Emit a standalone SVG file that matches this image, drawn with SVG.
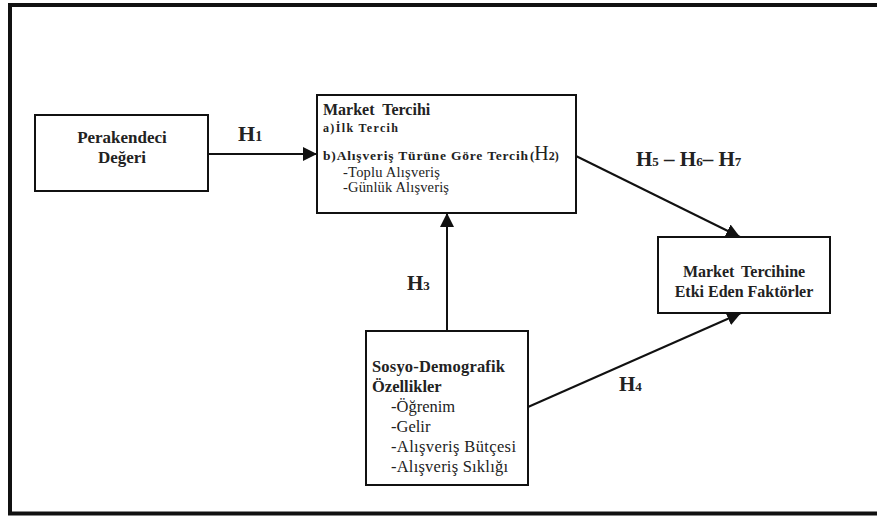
<svg xmlns="http://www.w3.org/2000/svg" width="877" height="516" viewBox="0 0 877 516">
  <style>
    .box { fill: #ffffff; stroke: #111111; stroke-width: 2; }
    .conn { stroke: #111111; stroke-width: 2; fill: none; marker-end: url(#tri); }
    text { font-family: "Liberation Serif", "DejaVu Serif", "Times New Roman", serif; fill: #222222; }
    .b { font-weight: bold; }
  </style>
  <defs>
    <marker id="tri" viewBox="0 0 14 14" refX="14" refY="7" markerWidth="14" markerHeight="14" markerUnits="userSpaceOnUse" orient="auto">
      <path d="M0,0 L14,7 L0,14 Z" fill="#111111"/>
    </marker>
  </defs>

  <rect width="877" height="516" fill="#ffffff"/>

  <!-- outer frame (open to the right) -->
  <path d="M880,5 L10,5 L10,513.5 L880,513.5" fill="none" stroke="#111111" stroke-width="4"/>

  <g id="connectors">
    <line class="conn" x1="208" y1="154" x2="317" y2="154"/>
    <line class="conn" x1="576" y1="156" x2="740" y2="237"/>
    <line class="conn" x1="447" y1="331" x2="447" y2="213"/>
    <line class="conn" x1="528" y1="407" x2="741" y2="313"/>
    <g id="labels">
      <text class="b" x="238" y="141" font-size="22">H<tspan font-size="14">1</tspan></text>
      <text class="b" x="636" y="166" font-size="21">H<tspan font-size="13">5</tspan> – H<tspan font-size="13">6</tspan>– H<tspan font-size="13">7</tspan></text>
      <text class="b" x="407" y="290" font-size="21">H<tspan font-size="13">3</tspan></text>
      <text class="b" x="619" y="391" font-size="21">H<tspan font-size="13">4</tspan></text>
    </g>
  </g>

  <g id="perakendeci">
    <rect class="box" x="35" y="115" width="173" height="76"/>
    <text class="b" x="122" y="143" font-size="17" text-anchor="middle">Perakendeci</text>
    <text class="b" x="122" y="163" font-size="17" text-anchor="middle">Değeri</text>
  </g>

  <g id="market-tercihi">
    <rect class="box" x="317" y="95" width="259" height="118"/>
    <text class="b" x="323" y="115" font-size="16" word-spacing="4">Market Tercihi</text>
    <text class="b" x="323" y="132" font-size="12" textLength="75" lengthAdjust="spacing">a)İlk Tercih</text>
    <text class="b" x="323" y="160" font-size="13.5" textLength="205" lengthAdjust="spacing">b)Alışveriş Türüne Göre Tercih</text>
    <text x="530" y="160"><tspan class="b" font-size="13">(</tspan><tspan font-size="20">H</tspan><tspan class="b" font-size="12">2)</tspan></text>
    <text x="343" y="177" font-size="14.5" textLength="97" lengthAdjust="spacing">-Toplu Alışveriş</text>
    <text x="343" y="192" font-size="14.5" textLength="106" lengthAdjust="spacing">-Günlük Alışveriş</text>
  </g>

  <g id="sosyo-demografik">
    <rect class="box" x="366" y="331" width="162" height="154"/>
    <text class="b" x="372" y="372" font-size="16.5" textLength="133" lengthAdjust="spacing">Sosyo-Demografik</text>
    <text class="b" x="372" y="392" font-size="16.5">Özellikler</text>
    <text x="391" y="412" font-size="16.5">-Öğrenim</text>
    <text x="391" y="432" font-size="16.5">-Gelir</text>
    <text x="391" y="452" font-size="16.5" textLength="125" lengthAdjust="spacing">-Alışveriş Bütçesi</text>
    <text x="391" y="472" font-size="16.5" textLength="117" lengthAdjust="spacing">-Alışveriş Sıklığı</text>
  </g>

  <g id="faktorler">
    <rect class="box" x="658" y="237" width="172" height="76"/>
    <text class="b" x="744" y="277" font-size="16" text-anchor="middle" word-spacing="3">Market Tercihine</text>
    <text class="b" x="744" y="297" font-size="16" text-anchor="middle">Etki Eden Faktörler</text>
  </g>
</svg>
